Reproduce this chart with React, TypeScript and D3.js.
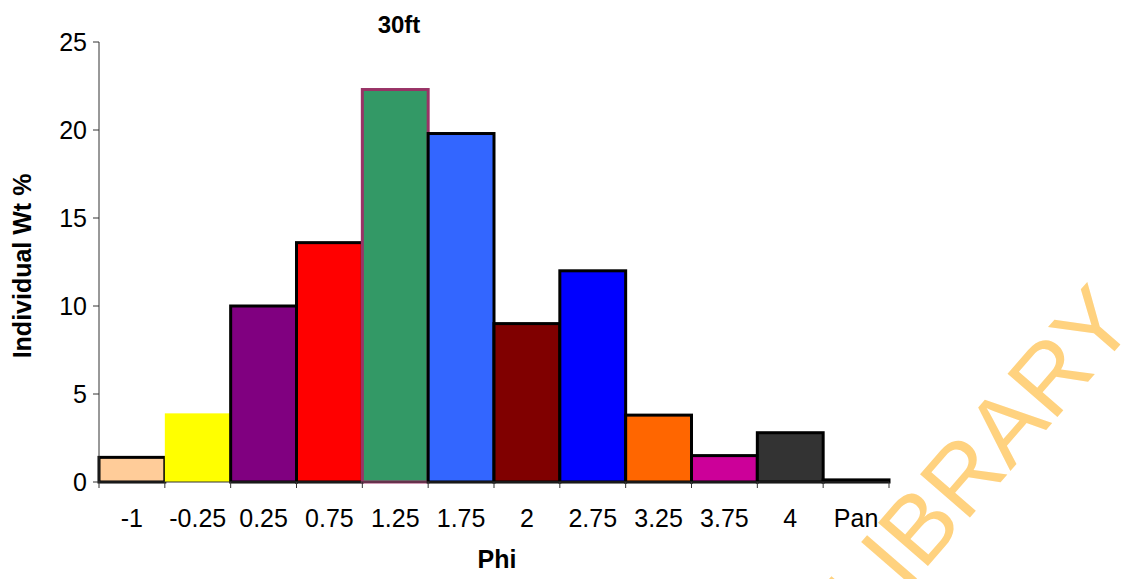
import React from "react";
import * as d3 from "d3";

// Grain-size distribution at 30ft: individual weight % retained per phi class
const categories = ["-1", "-0.25", "0.25", "0.75", "1.25", "1.75", "2", "2.75", "3.25", "3.75", "4", "Pan"];
const values = [1.4, 3.9, 10.0, 13.6, 22.3, 19.8, 9.0, 12.0, 3.8, 1.5, 2.8, 0.12];
const fills = ["#FFCC99", "#FFFF00", "#800080", "#FF0000", "#339966", "#3366FF", "#800000", "#0000FF", "#FF6600", "#CC0099", "#333333", "#000000"];
const strokes = ["#000000", "none", "#000000", "#000000", "#993366", "#000000", "#000000", "#000000", "#000000", "#000000", "#000000", "#000000"];
const yTicks = [0, 5, 10, 15, 20, 25];

const W = 1131;
const H = 579;
const FONT = "'Liberation Sans', Arial, Helvetica, sans-serif";

export default function App() {
  const x = d3.scaleBand<string>().domain(categories).range([99, 889]).paddingInner(0).paddingOuter(0);
  const y = d3.scaleLinear().domain([0, 25]).range([482, 42]);
  const boundaries = categories.map((c) => x(c) as number).concat([x.range()[1]]);

  return (
    <svg width={W} height={H} style={{ position: "absolute", left: 0, top: 0, background: "#fff" }} fontFamily={FONT}>
      {/* bars */}
      {categories.map((c, i) => {
        const x0 = x(c) as number;
        const y0 = y(values[i]);
        return (
          <rect
            key={c}
            x={x0}
            y={y0}
            width={x.bandwidth()}
            height={y(0) - y0}
            fill={fills[i]}
            stroke={strokes[i]}
            strokeWidth={3}
          />
        );
      })}

      {/* y axis */}
      <line x1={99} x2={99} y1={y(25)} y2={y(0)} stroke="#333" strokeWidth={1} />
      {yTicks.map((t) => (
        <g key={t}>
          <line x1={93} x2={99} y1={y(t)} y2={y(t)} stroke="#333" strokeWidth={1} />
          <text x={87} y={y(t)} dy="0.36em" textAnchor="end" fontSize={25} fill="#000">
            {t}
          </text>
        </g>
      ))}

      {/* x axis */}
      <line x1={99} x2={889} y1={y(0)} y2={y(0)} stroke="#333" strokeWidth={1} />
      {boundaries.map((b, i) => (
        <line key={i} x1={b} x2={b} y1={y(0)} y2={y(0) + 6} stroke="#333" strokeWidth={1} />
      ))}
      {categories.map((c) => (
        <text key={c} x={(x(c) as number) + x.bandwidth() / 2} y={527} textAnchor="middle" fontSize={25} fill="#000">
          {c}
        </text>
      ))}

      {/* titles */}
      <text x={399} y={33} textAnchor="middle" fontSize={24} fontWeight="bold" fill="#000">
        30ft
      </text>
      <text x={497} y={568} textAnchor="middle" fontSize={25} fontWeight="bold" fill="#000">
        Phi
      </text>
      <text
        transform="translate(31,266) rotate(-90)"
        textAnchor="middle"
        fontSize={25}
        fontWeight="bold"
        fill="#000"
      >
        Individual Wt %
      </text>

      {/* watermark */}
      <text
        transform="translate(978,455) rotate(-49)"
        y={35}
        textAnchor="middle"
        fontSize={96}
        fill="#FFD27F"
      >
        LIBRARY
      </text>
    </svg>
  );
}
